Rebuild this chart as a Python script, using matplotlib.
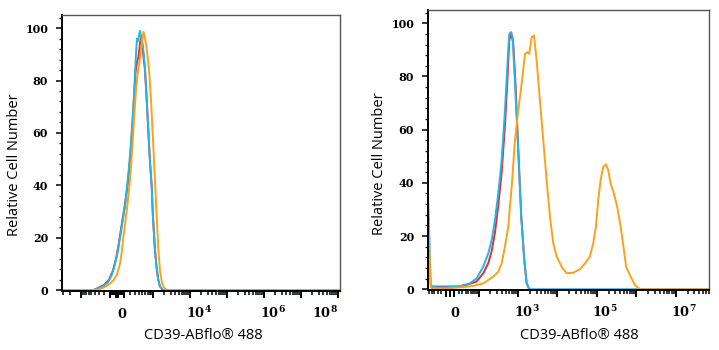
import numpy as np
import matplotlib
matplotlib.use("Agg")
import matplotlib.pyplot as plt
from matplotlib.ticker import FixedLocator, MultipleLocator
from matplotlib.transforms import ScaledTranslation

plt.rcParams['mathtext.fontset'] = 'dejavuserif'

# x values are in display decades of the biexponential axis, y in % of max
# left panel
l_cyan_x = [-1.486, -0.649, -0.541, -0.378, -0.243, -0.135, -0.054, 0.027, 0.081, 0.149, 0.216, 0.270,
            0.324, 0.378, 0.420, 0.459, 0.486, 0.514, 0.541, 0.568, 0.595, 0.622, 0.662, 0.703,
            0.757, 0.803, 0.851, 0.892, 0.938, 0.973, 1.027, 1.068, 1.116, 1.162, 1.243, 6.03]
l_cyan_y = [0, 0, 0.5, 1.5, 3, 6, 10, 15, 20, 26, 32, 39, 47, 56, 65, 74, 82, 90, 96, 95, 97, 99,
            96, 93, 85, 73, 60, 49, 40, 28, 15.5, 9, 4, 1.5, 0, 0]
l_red_x = [-0.649, -0.514, -0.351, -0.216, -0.108, -0.027, 0.041, 0.095, 0.162, 0.230, 0.297, 0.351,
           0.392, 0.432, 0.468, 0.500, 0.541, 0.581, 0.622, 0.662, 0.703, 0.757, 0.803, 0.851, 0.892,
           0.938, 0.973, 1.027, 1.068, 1.116, 1.162, 1.243]
l_red_y = [0, 0.8, 2, 4, 7.5, 12, 17, 22, 28, 34, 41, 49, 57, 66, 75, 83, 87, 89, 94, 97, 91, 84, 73,
           60, 49, 40, 28, 15.5, 9, 4, 1.5, 0]
l_orange_x = [-1.486, -0.595, -0.459, -0.297, -0.189, -0.081, 0.0, 0.081, 0.135, 0.170, 0.216, 0.270,
              0.324, 0.378, 0.432, 0.473, 0.514, 0.554, 0.595, 0.635, 0.676, 0.716, 0.757,
              0.797, 0.838, 0.878, 0.919, 0.959, 1.0, 1.041, 1.081, 1.122, 1.162, 1.216, 1.270,
              1.351, 6.03]
l_orange_y = [0, 0, 0.5, 1.5, 2.5, 4, 6, 10, 15, 20, 25, 31, 38, 47, 58, 68, 76, 82, 86, 90, 95,
              98.6, 96, 93, 88, 82, 73, 62, 50, 38, 26, 15, 7.5, 3, 1, 0, 0]

# right panel
r_cyan_x = [-0.557, -0.488, -0.463, -0.337, -0.084, 0.253, 0.506, 0.676, 0.843, 0.970, 1.056, 1.139,
            1.223, 1.309, 1.392, 1.451, 1.501, 1.537, 1.587, 1.646, 1.729, 1.805, 1.881, 1.942,
            2.008, 6.56]
r_cyan_y = [36, 2, 1.0, 0.7, 0.7, 1.2, 2.2, 4.1, 8.5, 13.5, 18.5, 26, 36, 48.5, 67.2, 83.5, 96, 96.6,
            94.8, 77.3, 52.3, 27.3, 11, 2.2, 0, 0]
r_red_x = [-0.463, 0.253, 0.506, 0.676, 0.843, 0.970, 1.056, 1.139, 1.223, 1.309, 1.392, 1.451, 1.501,
           1.552, 1.603, 1.663, 1.729, 1.805, 1.881, 1.942, 2.008]
r_red_y = [1.0, 1.0, 2.0, 2.9, 6, 9.8, 14.4, 21.3, 31.4, 43.9, 61.4, 77.7, 93.5, 96.6, 92.3, 76,
           52.3, 27.3, 11, 2.2, 0]
r_orange_x = [-0.557, -0.490, -0.463, -0.084, 0.253, 0.590, 0.843, 1.096, 1.223, 1.309, 1.392, 1.476,
              1.562, 1.646, 1.729, 1.815, 1.899, 1.957, 2.008, 2.068, 2.127, 2.195, 2.278, 2.362,
              2.448, 2.532, 2.615, 2.701, 2.828, 2.954, 3.122, 3.291, 3.418, 3.544, 3.628, 3.696,
              3.754, 3.815, 3.881, 3.949, 4.008, 4.068, 4.152, 4.235, 4.322, 4.405, 4.461, 4.575,
              4.684, 4.810, 6.56]
r_orange_y = [30, 1, 0.3, 0.3, 0.7, 1.2, 2.2, 4.7, 6.6, 9.7, 16, 23.5, 38.5, 56, 67.2, 77.3, 88.5,
              89.1, 88.5, 94.8, 95.4, 86, 71, 56, 41, 27.3, 17.3, 12.3, 8.5, 6, 6.2, 7.5, 9.7, 12.3,
              17.3, 23.5, 33.5, 41, 46, 47, 44.8, 39.8, 36, 31, 23.5, 14.7, 8.5, 4.7, 1.6, 0, 0]

left_labels = {0: '0', 4: '10^{4}', 6: '10^{6}', 8: '10^{8}'}
right_labels = {0: '0', 3: '10^{3}', 5: '10^{5}', 7: '10^{7}'}

RED = '#EC2A2E'
CYAN = '#1DB7EA'
ORANGE = '#FBA11A'


def biex(v, c):
    return np.arcsinh(np.asarray(v, dtype=float) / c) / np.log(10)


def histo(fig, rect, c, xlim, curves, labels, last_right, ylab_pos, xlab_pos):
    ax = fig.add_axes(rect)
    for xs, ys, col in curves:
        ax.plot(xs, ys, color=col, lw=1.4, solid_joinstyle='round')
    ax.set_xlim(*xlim)
    ax.set_ylim(-0.3, 105)

    majors = [0.0] + [biex(s * 10.0 ** k, c) for k in range(1, 9) for s in (1, -1)]
    majors = sorted(float(m) for m in majors if xlim[0] <= m <= xlim[1])
    minors = []
    for k in range(1, 8):
        for m in range(2, 10):
            for s in (1, -1):
                d = float(biex(s * m * 10.0 ** k, c))
                if xlim[0] <= d <= xlim[1]:
                    minors.append(d)
    ax.xaxis.set_major_locator(FixedLocator(majors))
    ax.xaxis.set_minor_locator(FixedLocator(minors))
    lab = []
    for m in majors:
        txt = ''
        for k, t in labels.items():
            target = 0.0 if k == 0 else biex(10.0 ** k, c)
            if abs(m - target) < 1e-9:
                txt = r'$\mathbf{' + t + '}$'
        lab.append(txt)
    ax.set_xticklabels(lab)

    ax.yaxis.set_minor_locator(MultipleLocator(4))
    ax.set_yticks(range(0, 101, 20))
    ax.set_yticklabels([str(v) for v in range(0, 101, 20)], fontfamily='DejaVu Serif',
                       fontweight='bold', fontsize=8)

    ax.tick_params(axis='x', which='major', direction='out', length=5.2, width=1.4, pad=14,
                   labelsize=9.3)
    ax.tick_params(axis='x', which='minor', direction='out', length=3.0, width=1.1)
    ax.tick_params(axis='y', which='major', direction='out', length=4, width=1.1, pad=6)
    ax.tick_params(axis='y', which='minor', direction='out', length=2.2, width=0.9)

    shift = ScaledTranslation(-3 / 72, 0, fig.dpi_scale_trans)
    nonempty = [t for t in ax.get_xticklabels() if t.get_text()]
    for i, t in enumerate(nonempty):
        t.set_verticalalignment('baseline')
        if i == len(nonempty) - 1 and last_right:
            t.set_horizontalalignment('right')
        else:
            t.set_horizontalalignment('left')
            if i > 0:
                t.set_transform(t.get_transform() + shift)

    for side in ('left', 'bottom'):
        ax.spines[side].set_linewidth(1.4)
        ax.spines[side].set_color('black')
    for side in ('top', 'right'):
        ax.spines[side].set_linewidth(1.0)
        ax.spines[side].set_color('#555555')

    ax.set_ylabel('Relative Cell Number', fontfamily='Open Sans', fontsize=10.5)
    ax.set_xlabel('CD39-ABflo® 488', fontfamily='Open Sans', fontsize=10.5)
    ax.yaxis.set_label_coords(*ylab_pos)
    ax.xaxis.set_label_coords(*xlab_pos)
    ax.xaxis.label.set_verticalalignment('center')
    return ax


fig = plt.figure(figsize=(7.19, 3.5), dpi=100)

histo(fig, [62 / 719, 59 / 350, 278 / 719, 276 / 350], 213.0, (-1.486, 6.03),
      [(l_red_x, l_red_y, RED), (l_cyan_x, l_cyan_y, CYAN), (l_orange_x, l_orange_y, ORANGE)],
      left_labels, True, (-0.144, 0.456), (0.508, -0.163))
histo(fig, [428 / 719, 60 / 350, 281 / 719, 280 / 350], 38.6, (-0.557, 6.56),
      [(r_red_x, r_red_y, RED), (r_cyan_x, r_cyan_y, CYAN), (r_orange_x, r_orange_y, ORANGE)],
      right_labels, False, (-0.146, 0.45), (0.54, -0.164))

fig.savefig('out.png', dpi=100)
